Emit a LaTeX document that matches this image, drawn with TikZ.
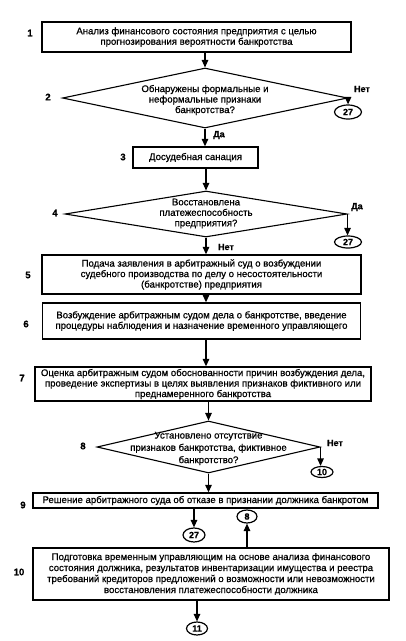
\documentclass[tikz,border=0pt]{standalone}
\usepackage{fontspec}
\setmainfont{Liberation Sans}[FakeBold=0.8]
\usetikzlibrary{shapes.geometric,arrows.meta}
\begin{document}
\begin{tikzpicture}[x=1pt,y=-1pt,
  every node/.style={font=\fontsize{9.6}{10.5}\selectfont},
  box/.style={draw,line width=1.3pt,inner sep=0pt,align=center},
  dia/.style={draw,line width=1.1pt,diamond,inner sep=0pt},
  circ/.style={draw,line width=1.2pt,ellipse,inner sep=0pt,font=\fontsize{9}{9}\selectfont\bfseries},
  num/.style={font=\fontsize{9.5}{9}\selectfont\bfseries},
  yn/.style={font=\fontsize{9}{9}\selectfont\bfseries},
  arr/.style={line width=1.2pt,-{Triangle[length=7.5pt,width=6.5pt]}}]
\useasboundingbox (0,0) rectangle (406,641);
% boxes
\node[box,minimum width=309pt,minimum height=30pt] (b1) at (196.5,37) {Анализ финансового состояния предприятия с целью\\прогнозирования вероятности банкротства};
\node[num] (n1) at (30,33) {1};
\node[dia,minimum width=285pt,minimum height=60pt] (d2) at (205,98) {};
\node[align=center] (t2) at (205,100) {Обнаружены формальные и\\неформальные признаки\\банкротства?};
\node[num] (n2) at (48,97) {2};
\node[yn] (y2) at (362,89) {Нет};
\node[circ,minimum width=27pt,minimum height=14pt] (c2) at (348,112) {27};
\node[yn] (y2b) at (219,135) {Да};
\node[box,minimum width=125pt,minimum height=21pt] (b3) at (195.5,157.5) {Досудебная санация};
\node[num] (n3) at (123,157) {3};
\node[dia,minimum width=282pt,minimum height=46pt] (d4) at (206,214) {};
\node[align=center] (t4) at (206,213.5) {Восстановлена\\платежеспособность\\предприятия?};
\node[num] (n4) at (55,213) {4};
\node[yn] (y4) at (357,207) {Да};
\node[circ,minimum width=27pt,minimum height=12pt] (c4) at (348,242) {27};
\node[yn] (y4b) at (226,247) {Нет};
\node[box,minimum width=319pt,minimum height=39pt] (b5) at (201.5,274.5) {Подача заявления в арбитражный суд о возбуждении\\судебного производства по делу о несостоятельности\\(банкротстве) предприятия};
\node[num] (n5) at (28,275) {5};
\node[box,minimum width=318pt,minimum height=36pt] (b6) at (201.5,321) {Возбуждение арбитражным судом дела о банкротстве, введение\\процедуры наблюдения и назначение временного управляющего};
\node[num] (n6) at (26,324) {6};
\node[box,minimum width=336pt,minimum height=34pt] (b7) at (203,384) {Оценка арбитражным судом обоснованности причин возбуждения дела,\\проведение экспертизы в целях выявления признаков фиктивного или\\преднамеренного банкротства};
\node[num] (n7) at (22,378) {7};
\node[dia,minimum width=223pt,minimum height=52pt] (d8) at (208.5,447) {};
\node[align=center,font=\fontsize{9.6}{12.3}\selectfont] (t8) at (208.5,448.5) {Установлено отсутствие\\признаков банкротства, фиктивное\\банкротство?};
\node[num] (n8) at (83,446) {8};
\node[yn] (y8) at (335,443) {Нет};
\node[circ,minimum width=22pt,minimum height=11pt] (c8) at (322,472) {10};
\node[box,minimum width=345pt,minimum height=15pt] (b9) at (205.5,500.5) {Решение арбитражного суда об отказе в признании должника банкротом};
\node[num] (n9) at (23,505) {9};
\node[circ,minimum width=22pt,minimum height=14pt] (c9) at (194,535) {27};
\node[circ,minimum width=20pt,minimum height=13pt] (c10a) at (247,516.5) {8};
\node[box,minimum width=356pt,minimum height=52pt,font=\fontsize{9.6}{11}\selectfont] (b10) at (211,574) {Подготовка временным управляющим на основе анализа финансового\\состояния должника, результатов инвентаризации имущества и реестра\\требований кредиторов предложений о возможности или невозможности\\восстановления платежеспособности должника};
\node[num] (n10) at (19,572) {10};
\node[circ,minimum width=21pt,minimum height=13pt] (c11) at (197,628.5) {11};
% connectors
\draw[arr] (d2.north |- b1.south) -- (d2.north);
\draw[arr] (d2.east) -- (d2.east |- c2.north);
\draw[arr] (d2.south) -- (d2.south |- b3.north);
\draw[arr] (d4.north |- b3.south) -- (d4.north);
\draw[arr] (d4.east) -- (d4.east |- c4.north);
\draw[arr] (d4.south) -- (d4.south |- b5.north);
\draw[arr] (d4.south |- b5.south) -- (d4.south |- b6.north);
\draw[arr] (d4.south |- b6.south) -- (d4.south |- b7.north);
\draw[arr] (d8.north |- b7.south) -- (d8.north);
\draw[arr] (d8.east) -- (d8.east |- c8.north);
\draw[arr] (d8.south) -- (d8.south |- b9.north);
\draw[arr] (c9.north |- b9.south) -- (c9.north);
\draw[arr] (c10a.south |- b10.north) -- (c10a.south);
\draw[arr] (c11.north |- b10.south) -- (c11.north);
\end{tikzpicture}
\end{document}
